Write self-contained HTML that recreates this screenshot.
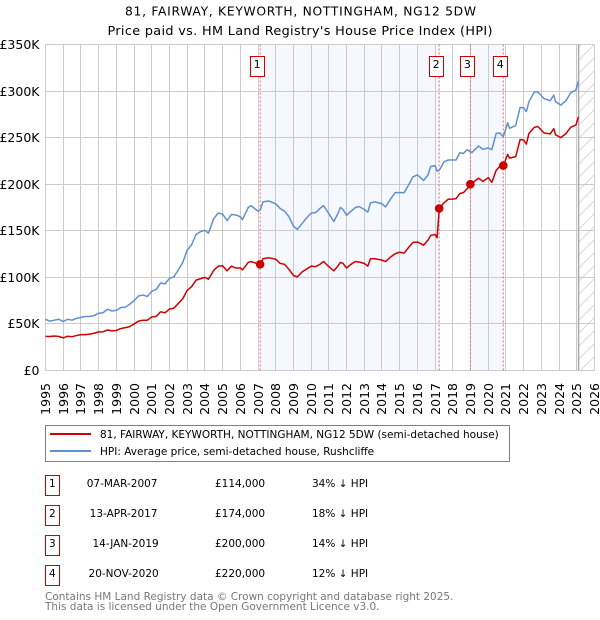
<!DOCTYPE html>
<html>
<head>
<meta charset="utf-8">
<title>81, FAIRWAY, KEYWORTH price paid vs HPI</title>
<style>
html,body{margin:0;padding:0;background:#fff;width:600px;height:620px;overflow:hidden}
svg{display:block}
text{font-family:"DejaVu Sans","Liberation Sans",sans-serif;fill:#000}
</style>
</head>
<body>
<svg id="chart" width="600" height="620" viewBox="0 0 600 620" xmlns="http://www.w3.org/2000/svg">
<defs>
<pattern id="hatch" width="13" height="13" patternUnits="userSpaceOnUse" patternTransform="translate(1 1)">
<path d="M-1 14L14 -1M-1 1L1 -1M12 14L14 12" stroke="#d4d4d4" stroke-width="0.9" fill="none"/>
</pattern>
</defs>
<text x="125" y="15.5" font-size="12.3" textLength="351" lengthAdjust="spacing">81, FAIRWAY, KEYWORTH, NOTTINGHAM, NG12 5DW</text>
<text x="107.5" y="35" font-size="12.8" textLength="385" lengthAdjust="spacing">Price paid vs. HM Land Registry's House Price Index (HPI)</text>
<g id="plot"></g>

<rect x="45.5" y="425.5" width="464" height="36" fill="#fff" stroke="#808080" stroke-width="1"/>
<line x1="50" x2="91" y1="434" y2="434" stroke="#cc0000" stroke-width="2"/>
<text x="100" y="438" font-size="10.5">81, FAIRWAY, KEYWORTH, NOTTINGHAM, NG12 5DW (semi-detached house)</text>
<line x1="50" x2="91" y1="451" y2="451" stroke="#6090d0" stroke-width="2"/>
<text x="100" y="455" font-size="10.5">HPI: Average price, semi-detached house, Rushcliffe</text>

<g font-size="10.5">
<rect x="45.5" y="475.5" width="14" height="20" fill="#fff" stroke="#cc0000"/>
<text x="52.3" y="487" text-anchor="middle">1</text>
<text x="157.5" y="487" text-anchor="end">07-MAR-2007</text>
<text x="215" y="487">£114,000</text>
<text x="312" y="487">34% ↓ HPI</text>

<rect x="45.5" y="505.5" width="14" height="20" fill="#fff" stroke="#cc0000"/>
<text x="52.3" y="517" text-anchor="middle">2</text>
<text x="157.5" y="517" text-anchor="end">13-APR-2017</text>
<text x="215" y="517">£174,000</text>
<text x="312" y="517">18% ↓ HPI</text>

<rect x="45.5" y="535.5" width="14" height="20" fill="#fff" stroke="#cc0000"/>
<text x="52.3" y="547" text-anchor="middle">3</text>
<text x="158.7" y="547" text-anchor="end">14-JAN-2019</text>
<text x="215" y="547">£200,000</text>
<text x="312" y="547">14% ↓ HPI</text>

<rect x="45.5" y="565.5" width="14" height="20" fill="#fff" stroke="#cc0000"/>
<text x="52.3" y="577" text-anchor="middle">4</text>
<text x="158.7" y="577" text-anchor="end">20-NOV-2020</text>
<text x="215" y="577">£220,000</text>
<text x="312" y="577">12% ↓ HPI</text>
</g>

<text x="45" y="600" font-size="10.5" style="fill:#777">Contains HM Land Registry data © Crown copyright and database right 2025.</text>
<text x="45" y="610" font-size="10.5" style="fill:#777">This data is licensed under the Open Government Licence v3.0.</text>
</svg>
<script>
const yearTicks = [1995,1996,1997,1998,1999,2000,2001,2002,2003,2004,2005,2006,2007,2008,2009,2010,2011,2012,2013,2014,2015,2016,2017,2018,2019,2020,2021,2022,2023,2024,2025,2026];
const valueTicks = [0,50,100,150,200,250,300,350];
const valueLabels = ['£0','£50K','£100K','£150K','£200K','£250K','£300K','£350K'];
const dates = [1995,1995.25,1995.5,1995.75,1996,1996.25,1996.5,1996.75,1997,1997.25,1997.5,1997.75,1998,1998.25,1998.5,1998.75,1999,1999.25,1999.5,1999.75,2000,2000.25,2000.5,2000.75,2001,2001.25,2001.5,2001.75,2002,2002.25,2002.5,2002.75,2003,2003.25,2003.5,2003.75,2004,2004.2,2004.5,2004.75,2005,2005.25,2005.5,2005.75,2006,2006.12,2006.45,2006.6,2007,2007.12,2007.28,2007.6,2008,2008.25,2008.5,2008.75,2009,2009.22,2009.5,2009.75,2010,2010.25,2010.5,2010.7,2011,2011.28,2011.5,2011.65,2011.8,2012,2012.25,2012.5,2012.7,2013,2013.2,2013.35,2013.6,2014,2014.2,2014.5,2014.75,2015,2015.25,2015.5,2015.75,2016,2016.35,2016.6,2016.75,2017,2017.11,2017.24,2017.5,2017.75,2018,2018.18,2018.4,2018.6,2018.8,2019.08,2019.45,2019.7,2020,2020.2,2020.45,2020.65,2020.85,2021.1,2021.2,2021.55,2021.8,2022,2022.15,2022.3,2022.6,2022.8,2023.15,2023.5,2023.7,2023.8,2024.1,2024.4,2024.65,2024.95,2025.1];
const hpiValues = [55,53,54,55,52.5,55,54,56,57,58,58,59,61.5,62,65.7,64,64.5,67.5,68,71,75,80,81,79.5,85,87,94,93,99,100.5,108,116,129,135,146,149,150.5,147.5,163,169,168,161,167.5,167,165,162,175,177,171,172,181,182,179,174,171,165,155,151.5,158,164,169,169.5,174,177,168.4,160,168,175,173,166.6,171,175,176,173,170,180,181,179,175.6,184.6,191,191,191,199,208,210,204,210,219,220,214,215,224,226,226,226,234,233,237,234,241,237.5,239,237,254.6,255,251,266,260,263,282.5,282,278,288.6,299,299,292,289.6,295.7,288.6,285,290,298,301,311];
const priceValues = [36.5,36.5,37,36.5,35,36.8,36.3,37.5,38.5,38.5,39,40,41.5,41.5,43.5,42.5,43,45,46,47,50,53,54,54,57.5,58,63,62,66,67,72,77,86,90,97,98.5,100,98,107.5,112,112.5,107,112,110,110,108,116,117,114.5,114,120,121,119.5,115,114,108.5,102,100.5,106,109,112,111.5,114,117,111.5,107,112,116,115,110,114,117,116.5,115,112,120,120,118.5,117,122,125.5,127,126,132,137.5,138,134.5,140,145,146,142.5,174,180,184,184,184.5,190,191,195,201,206.5,203,207,202,215,219,220,232,228,229.6,248,247.5,243,254.6,261,262,255,254,259.6,253,250,254.6,261,263.6,272.5];
const saleDates = [2007.12,2017.23,2018.99,2020.85];
const salePrices = [114,174,200,220];
const saleNumbers = ['1','2','3','4'];
const dataEnd = 2025.1;

const NS = 'http://www.w3.org/2000/svg';
const plot = document.getElementById('plot');
const xScale = d => 45.5 + (d - 1995) * (549 / 31);
const yScale = v => 370.5 - v * (326 / 350);
const crisp = p => Math.floor(p) + 0.5;
const left = xScale(1995), right = xScale(2026), top_ = yScale(350), bottom = yScale(0);

function make(tag, attrs, parent) {
  const el = document.createElementNS(NS, tag);
  for (const k in attrs) el.setAttribute(k, attrs[k]);
  (parent || plot).appendChild(el);
  return el;
}

const band1 = make('rect', {x: xScale(saleDates[0]), y: top_, width: xScale(saleDates[1]) - xScale(saleDates[0]), height: bottom - top_, fill: '#f5f8ff'});


const band2 = make('rect', {x: xScale(saleDates[2]), y: top_, width: xScale(saleDates[3]) - xScale(saleDates[2]), height: bottom - top_, fill: '#f5f8ff'});


const hatch = make('rect', {x: xScale(dataEnd), y: top_, width: right - xScale(dataEnd), height: bottom - top_, fill: 'url(#hatch)'});



yearTicks.forEach(year => {
  const x = crisp(xScale(year));
  const grid = make('line', {x1: x, x2: x, y1: top_, y2: bottom, stroke: '#ccc', 'stroke-width': 1});
  
  
  const label = make('text', {x: 0, y: 0, 'font-size': 12.5, 'text-anchor': 'end', transform: 'translate(' + (x + 4.5) + ',383) rotate(-90)'});
  label.textContent = year;
  
  
});

valueTicks.forEach((v, i) => {
  const y = crisp(yScale(v));
  const grid = make('line', {x1: left, x2: right, y1: y, y2: y, stroke: '#ccc', 'stroke-width': 1});
  
  
  const label = make('text', {x: 39.5, y: y + 4.5, 'font-size': 12.5, 'text-anchor': 'end'});
  label.textContent = valueLabels[i];
  
  
});

const endLine = make('line', {x1: xScale(dataEnd), x2: xScale(dataEnd), y1: top_, y2: bottom, stroke: '#aaa', 'stroke-width': 1.5});



saleDates.forEach((d, i) => {
  const x = xScale(d);
  const dash = make('line', {x1: x, x2: x, y1: top_, y2: bottom, stroke: '#ee6666', 'stroke-width': 1, 'stroke-dasharray': '2,2'});
  
  
});

const pathFrom = vals => vals.map((v, i) => (i ? 'L' : 'M') + xScale(dates[i]).toFixed(2) + ' ' + yScale(v).toFixed(2)).join('');

const hpiLine = make('path', {d: pathFrom(hpiValues), fill: 'none', stroke: '#6090d0', 'stroke-width': 1.5, 'stroke-linejoin': 'round'});


const priceLine = make('path', {d: pathFrom(priceValues), fill: 'none', stroke: '#cc0000', 'stroke-width': 1.5, 'stroke-linejoin': 'round'});



saleDates.forEach((d, i) => {
  const x = xScale(d);
  const dot = make('circle', {cx: x, cy: yScale(salePrices[i]), r: 4.3, fill: '#cc0000'});
  
  
  const box = make('rect', {x: Math.floor(x - 9.5) + 0.5, y: 56.5, width: 14, height: 20, fill: '#fff', stroke: '#cc0000', 'stroke-width': 1});
  
  
  const num = make('text', {x: x - 3, y: 68, 'font-size': 11, 'text-anchor': 'middle'});
  num.textContent = saleNumbers[i];
  
  
});
</script>
</body>
</html>
